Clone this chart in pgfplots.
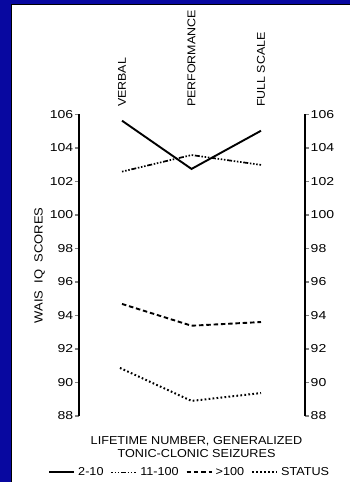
\documentclass[border=0pt]{standalone}
\usepackage{pgfplots}
\pgfplotsset{compat=1.18}
\usepackage{fontspec}
\setmainfont{Liberation Sans}[FakeStretch=1.1]
\newfontfamily\tickfont{Liberation Sans}[FakeStretch=1.22]
\definecolor{frameblue}{RGB}{8,8,160}

\begin{document}
\begin{tikzpicture}[x=1pt,y=1pt]
\path[use as bounding box] (0,0) rectangle (350,482);
\fill[frameblue] (0,0) rectangle (350,482);
\fill[white] (12,0) rectangle (350,477);
\draw[black, line width=1.2pt] (11.6,0) -- (11.6,477.4) -- (350,477.4);

\begin{axis}[
  at={(79pt,66pt)}, anchor=south west,
  scale only axis, width=226pt, height=301.5pt,
  xmin=-0.619, xmax=2.633, ymin=88, ymax=106,
  axis x line*=top, axis y line*=left,
  x axis line style={draw=none},
  y axis line style={line width=1.1pt},
  xtick={0,1,2}, xticklabels={VERBAL,PERFORMANCE,FULL SCALE},
  xtick style={draw=none},
  xticklabel style={rotate=90, anchor=west, font=\fontsize{11.3}{12}\selectfont},
  ytick={88,90,...,106},
  tick align=outside, major tick length=4pt,
  ytick style={line width=1.1pt},
  /pgf/number format/assume math mode=true,
  yticklabel style={font=\tickfont\fontsize{11.5}{12}\selectfont, inner sep=1.5pt},
  ylabel={WAIS\ \ IQ\ \ SCORES},
  ylabel style={font=\fontsize{11.8}{12}\selectfont},
  clip=false,
  legend columns=4,
  legend style={draw=none, fill=none, at={(0.49,-0.187)}, anchor=center,
    font=\fontsize{11.5}{12}\selectfont, inner sep=0pt,
    /tikz/every odd column/.append style={column sep=1pt},
    /tikz/every even column/.append style={column sep=5pt}},
  legend image code/.code={\draw[#1] (0pt,0pt) -- (25pt,0pt);},
]
\addplot[black, line width=1.9pt] coordinates {(0,105.63) (1,102.75) (2,105.03)};
\addlegendentry{2-10}
\addplot[black, line width=1.7pt, dash pattern=on 1.5pt off 1.7pt on 1.5pt off 1.7pt on 1.5pt off 1.7pt on 5pt off 1.7pt] coordinates {(0,102.59) (1,103.58) (2,102.99)};
\addlegendentry{11-100}
\addplot[black, line width=1.9pt, dash pattern=on 4.5pt off 2.8pt] coordinates {(0,94.69) (1,93.39) (2,93.61)};
\addlegendentry{>100}
\addplot[black, line width=2pt, dash pattern=on 1.7pt off 2.3pt] coordinates {(-0.03,90.87) (1,88.90) (2,89.37)};
\addlegendentry{STATUS}
\node[align=center, font=\fontsize{11.5}{12.8}\selectfont] at (rel axis cs:0.52,-0.102) {LIFETIME NUMBER, GENERALIZED\\TONIC-CLONIC SEIZURES};
\end{axis}

\begin{axis}[
  at={(79pt,66pt)}, anchor=south west,
  scale only axis, width=226pt, height=301.5pt,
  xmin=-0.619, xmax=2.633, ymin=88, ymax=106,
  axis x line=none, axis y line*=right,
  y axis line style={line width=1.1pt},
  ytick={88,90,...,106},
  tick align=outside, major tick length=4pt,
  ytick style={line width=1.1pt},
  /pgf/number format/assume math mode=true,
  yticklabel style={font=\tickfont\fontsize{11.5}{12}\selectfont, inner sep=1.5pt},
]
\end{axis}
\end{tikzpicture}
\end{document}
